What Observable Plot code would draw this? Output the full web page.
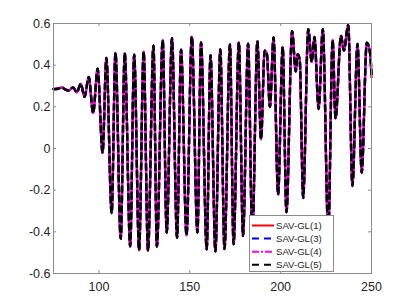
<!DOCTYPE html>
<html>
<head>
<meta charset="utf-8">
<script src="https://cdn.jsdelivr.net/npm/d3@7"></script>
<script src="https://cdn.jsdelivr.net/npm/@observablehq/plot@0.6"></script>
<style>
  html, body { margin: 0; padding: 0; background: #fff; }
  #wrap { position: relative; width: 409px; height: 307px; overflow: hidden; }
  #legend { position: absolute; left: 249px; top: 215px; width: 83px; height: 55px;
            background: #fff; border: 1px solid #8c8c8c; }
  #legend svg { display: block; }
</style>
</head>
<body>
<div id="wrap"></div>
<script>
// ---- data ----
const t = [75.0, 77.5, 79.6, 81.5, 83.3, 85.8, 87.8, 90.0, 92.1, 94.4, 96.8, 99.3, 102.0, 104.1,
  107.0, 109.1, 112.0, 114.2, 117.2, 119.4, 122.1, 124.6, 127.0, 130.0, 131.9, 135.1, 137.3, 140.2,
  143.0, 145.2, 148.2, 151.1, 154.2, 156.2, 159.3, 161.4, 164.1, 166.8, 169.1, 172.1, 174.1, 177.0,
  179.3, 182.1, 184.4, 187.2, 189.2, 191.2, 192.4, 194.1, 196.1, 198.6, 201.1, 203.2, 206.3, 208.3,
  209.4, 210.5, 212.4, 215.2, 217.1, 218.6, 220.9, 223.2, 226.2, 228.6, 230.2, 233.2, 234.8, 237.2,
  239.5, 242.3, 244.6, 247.4, 249.2, 250.0];

const sav5 = [0.285, 0.287, 0.293, 0.283, 0.278, 0.293, 0.270, 0.310, 0.248, 0.343, 0.170, 0.383, -0.020, 0.435,
  -0.310, 0.460, -0.433, 0.458, -0.469, 0.450, -0.487, 0.465, -0.490, 0.493, -0.470, 0.520, -0.403, 0.529,
  -0.428, 0.474, -0.416, 0.537, -0.403, 0.509, -0.483, 0.448, -0.492, 0.475, -0.482, 0.499, -0.459, 0.509,
  -0.419, 0.503, -0.420, 0.514, 0.045, 0.469, 0.455, 0.200, 0.533, -0.220, 0.488, -0.305, 0.563, 0.370,
  0.453, 0.425, -0.237, 0.573, 0.417, 0.535, 0.190, 0.573, -0.400, 0.520, 0.145, 0.541, 0.470, 0.593,
  -0.179, 0.502, -0.115, 0.508, 0.460, 0.357];
const sav4 = sav5.slice();
const sav3 = sav5.slice();
const sav1 = [0.285, 0.287, 0.293, 0.283, 0.278, 0.293, 0.270, 0.310, 0.248, 0.343, 0.170, 0.383, -0.020, 0.435,
  -0.312, 0.460, -0.435, 0.458, -0.471, 0.450, -0.489, 0.465, -0.492, 0.493, -0.472, 0.520, -0.405, 0.529,
  -0.430, 0.474, -0.418, 0.537, -0.405, 0.509, -0.485, 0.448, -0.496, 0.475, -0.484, 0.499, -0.461, 0.509,
  -0.421, 0.503, -0.420, 0.514, 0.043, 0.469, 0.455, 0.198, 0.533, -0.222, 0.488, -0.307, 0.563, 0.368,
  0.453, 0.425, -0.239, 0.573, 0.415, 0.535, 0.188, 0.573, -0.400, 0.520, 0.143, 0.541, 0.470, 0.593,
  -0.181, 0.502, -0.117, 0.508, 0.455, 0.342];

const seriesNames = ["SAV-GL(1)", "SAV-GL(3)", "SAV-GL(4)", "SAV-GL(5)"];
const seriesValues = [sav1, sav3, sav4, sav5];
const xTicks = [100, 150, 200, 250];
const yTicks = [-0.6, -0.4, -0.2, 0, 0.2, 0.4, 0.6];
const yTickLabels = ["-0.6", "-0.4", "-0.2", "0", "0.2", "0.4", "0.6"];

// ---- styles ----
const styles = [
  {stroke: "#ff0000", dash: null},
  {stroke: "#0000ff", dash: "6,4"},
  {stroke: "#ff00ff", dash: "6,2,2,2"},
  {stroke: "#000000", dash: "6,4"}
];

const rows = (vals) => t.map((x, i) => ({x, y: vals[i]}));

const W = 409, H = 307;
const mL = 53, mR = 38, mT = 23, mB = 34;
const innerW = W - mL - mR, innerH = H - mT - mB;
const tickLen = 3;
const axisColor = "#262626";
const frameColor = "#8c8c8c";

const lineMarks = seriesValues.map((vals, i) =>
  Plot.line(rows(vals), {x: "x", y: "y", curve: "monotone-x", stroke: styles[i].stroke,
    strokeWidth: 2.4, strokeDasharray: styles[i].dash, strokeLinejoin: "round"}));

const chart = Plot.plot({
  width: W, height: H,
  marginLeft: mL, marginRight: mR, marginTop: mT, marginBottom: mB,
  style: {fontFamily: "'Liberation Sans', Arial, sans-serif", background: "#fff", color: axisColor},
  x: {domain: [75, 250]},
  y: {domain: [-0.6, 0.6]},
  marks: [
    ...lineMarks,
    Plot.frame({stroke: frameColor, strokeWidth: 1}),
    // inward ticks (bottom/top, left/right)
    Plot.tickX(xTicks, {x: d => d, stroke: frameColor, insetTop: innerH - tickLen}),
    Plot.tickX(xTicks, {x: d => d, stroke: frameColor, insetBottom: innerH - tickLen}),
    Plot.tickY(yTicks, {y: d => d, stroke: frameColor, insetRight: innerW - tickLen}),
    Plot.tickY(yTicks, {y: d => d, stroke: frameColor, insetLeft: innerW - tickLen}),
    Plot.axisX({ticks: xTicks, tickSize: 0, tickPadding: 9, fontSize: 12.5, label: null,
      tickFormat: d => String(d), fill: axisColor}),
    Plot.axisY({ticks: yTicks, tickSize: 0, tickPadding: 3, fontSize: 12.5, label: null,
      tickFormat: d => yTickLabels[yTicks.indexOf(d)], fill: axisColor})
  ]
});

const wrap = document.getElementById("wrap");
wrap.appendChild(chart);

// ---- legend (inside the axes, bottom right) ----
const legend = document.createElement("div");
legend.id = "legend";
const ns = "http://www.w3.org/2000/svg";
const lsvg = document.createElementNS(ns, "svg");
lsvg.setAttribute("width", 83);
lsvg.setAttribute("height", 55);
seriesNames.forEach((name, i) => {
  const cy = 9.5 + i * 13.1;
  const ln = document.createElementNS(ns, "line");
  ln.setAttribute("x1", 2); ln.setAttribute("x2", 24);
  ln.setAttribute("y1", cy); ln.setAttribute("y2", cy);
  ln.setAttribute("stroke", styles[i].stroke);
  ln.setAttribute("stroke-width", 2);
  if (styles[i].dash) ln.setAttribute("stroke-dasharray", i === 2 ? "7,2,2,2" : "7,5");
  lsvg.appendChild(ln);
  const tx = document.createElementNS(ns, "text");
  tx.setAttribute("x", 26);
  tx.setAttribute("y", cy);
  tx.setAttribute("dy", "0.35em");
  tx.setAttribute("font-size", "9.6");
  tx.setAttribute("font-family", "'Liberation Sans', Arial, sans-serif");
  tx.setAttribute("fill", axisColor);
  tx.textContent = name;
  lsvg.appendChild(tx);
});
legend.appendChild(lsvg);
wrap.appendChild(legend);
</script>
</body>
</html>
